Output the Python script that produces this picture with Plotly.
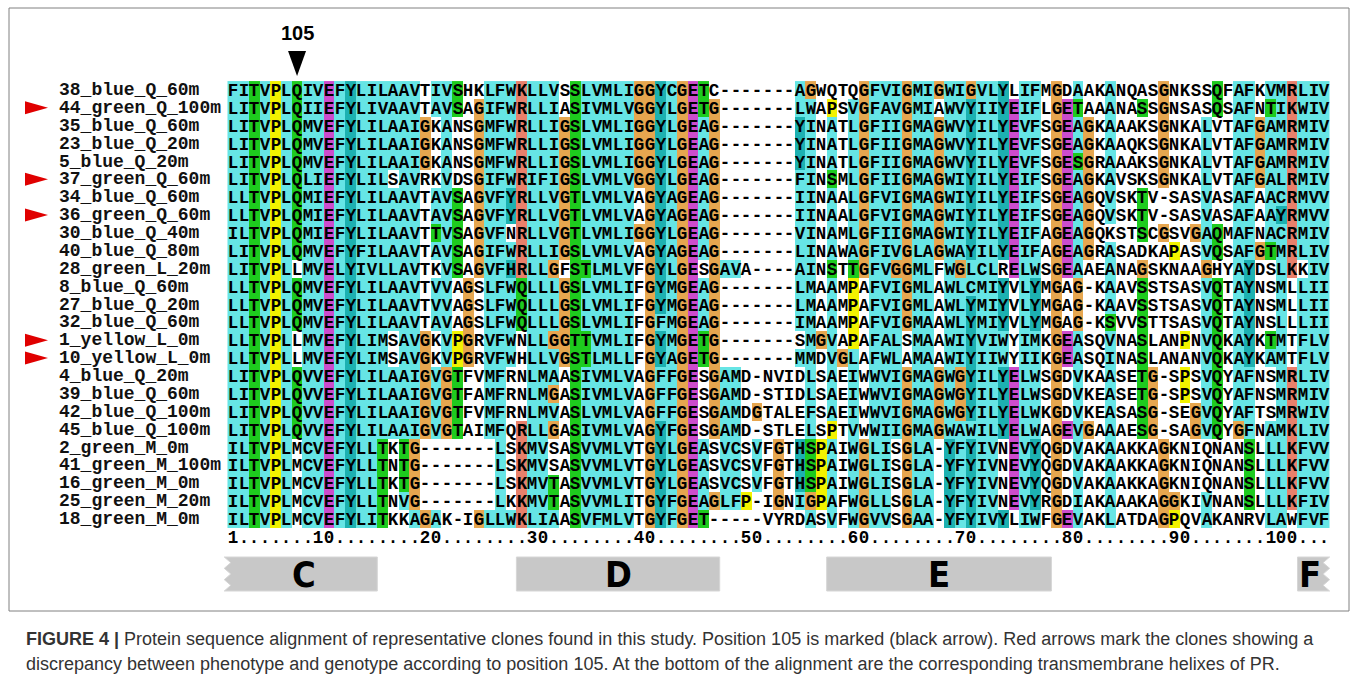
import plotly.graph_objects as go
from collections import Counter

# ---------------- data ----------------
names = [
    "38_blue_Q_60m", "44_green_Q_100m", "35_blue_Q_60m", "23_blue_Q_20m", "5_blue_Q_20m",
    "37_green_Q_60m", "34_blue_Q_60m", "36_green_Q_60m", "30_blue_Q_40m", "40_blue_Q_80m",
    "28_green_L_20m", "8_blue_Q_60m", "27_blue_Q_20m", "32_blue_Q_60m", "1_yellow_L_0m",
    "10_yellow_L_0m", "4_blue_Q_20m", "39_blue_Q_60m", "42_blue_Q_100m", "45_blue_Q_100m",
    "2_green_M_0m", "41_green_M_100m", "16_green_M_0m", "25_green_M_20m", "18_green_M_0m",
]
seqs = [
    "FITVPLQIVEFYLILAAVTIVSHKLFWKLLVSSLVMLIGGYCGETC-------AGWQTQGFVIGMIGWIGVLYLIFMGDAAKANQASGNKSSQFAFKVMRLIV",
    "LITVPLQIIEFYLIVAAVTAVSAGIFWRLLIASIVMLVGGYLGETG-------LWAPSVGFAVGMIAWVYIIYEIFLGETAAANASSGNSASQSAFNTIKWIV",
    "LITVPLQMVEFYLILAAIGKANSGMFWRLLIGSLVMLIGGYLGEAG-------YINATLGFIIGMAGWVYILYEVFSGEAGKAAAKSGNKALVTAFGAMRMIV",
    "LITVPLQMVEFYLILAAIGKANSGMFWRLLIGSLVMLIGGYLGEAG-------YINATLGFIIGMAGWVYILYEVFSGEAGKAAQKSGNKALVTAFGAMRMIV",
    "LITVPLQMVEFYLILAAIGKANSGMFWRLLIGSLVMLIGGYLGEAG-------YINATLGFIIGMAGWVYILYEVFSGESGRAAAKSGNKALVTAFGAMRMIV",
    "LITVPLQLIEFYLILSAVRKVDSGIFWRIFIGSLVMLVGGYLGEAG-------FINSMLGFIIGMAGWIYILYEIFSGEAGKAVSKSGNKALVTAFGALRMIV",
    "LLTVPLQMIEFYLILAAVTAVSAGVFYRLLVGTLVMLVAGYAGEAG-------IINAALGFVIGMAGWIYILYEIFSGEAGQVSKTV-SASVASAFAACRMVV",
    "LLTVPLQMIEFYLILAAVTAVSAGVFYRLLVGTLVMLVAGYAGEAG-------IINAALGFVIGMAGWIYILYEIFSGEAGQVSKTV-SASVASAFAAYRMVV",
    "ILTVPLQMIEFYLILAAVTTVSAGVFNRLLVGTLVMLIGGYLGEAG-------VINAMLGFIIGMAGWIYILYEIFAGEAGQKSTSCGSVGAQMAFNACRMIV",
    "LITVPLQMVEFYFILAAVTAVSAGIFWRLLIGSLVMLVAGYAGEAG-------LINAWAGFIVGLAGWAYILYEIFAGEAGRASADKAPASVQSAFGTMRLIV",
    "LITVPLLMVELYIVLLAVTKVSAGVFHRLLGFSTLMLVFGYLGESGAVA----AINSTTGFVGGMLFWGLCLRELWSGEAAEANAGSKNAAGHYAYDSLKKIV",
    "LLTVPLQMVEFYLILAAVTVVAGSLFWQLLLGSLVMLIFGYMGEAG-------LMAAMPAFVIGMLAWLCMIYVLYMGAG-KAAVSSTSASVQTAYNSMLLII",
    "LLTVPLQMVEFYLILAAVTVVAGSLFWQLLLGSLVMLIFGYMGEAG-------LMAAMPAFVIGMLAWLYMIYVLYMGAG-KAAVSSTSASVQTAYNSMLLII",
    "LLTVPLQMVEFYLILAAVTAVAGSLFWQLLLGSLVMLIFGFMGEAG-------IMAAMPAFVIGMAAWLYMIYVLYMGAG-KSVVSTTSASVQTAYNSLLLII",
    "LLTVPLLMVEFYLIMSAVGKVPGRVFWNLLGGTTVMLIFGYMGETG-------SMGVAPAFALSMAAWIYVIWYIMKGEASQVNASLANPNVQKAYKTMTFLV",
    "LLTVPLLMVEFYLIMSAVGKVPGRVFWHLLVGSTLMLLFGYAGETG-------MMDVGLAFWLAMAAWIYIIWYIIKGEASQINASLANANVQKAYKAMTFLV",
    "LITVPLQVVEFYLILAAIGVGTFVMFRNLMAASIVMLVAGFFGESGAMD-NVIDLSAEIWWVIGMAGWGYILYELWSGDVKAASETG-SPSVQYAFNSMRLIV",
    "LITVPLQVVEFYLILAAIGVGTFAMFRNLMGASIVMLVAGFFGESGAMD-STIDLSAEIWWVIGMAGWGYILYELWSGDVKEASETG-SPSVQYAFNSMRMIV",
    "LITVPLQVVEFYLILAAIGVGTFVMFRNLMVASLVMLVAGFFGESGAMDGTALEFSAEIWWVIGMAGWGYILYELWKGDVKEASASG-SEGVQYAFTSMRWIV",
    "LITVPLQVVEFYLILAAIGVGTAIMFQRLLGASIVMLVAGYFGESGAMD-STLELSPTVWWIIGMAGWAWILYELWAGEVGAAAESG-SAGVQYGFNAMKLIV",
    "ILTVPLMCVEFYLLTKTG-------LSKMVSASVVMLVTGYLGEASVCSVFGTHSPAIWGLISGLA-YFYIVNEVYQGDVAKAAKKAGKNIQNANSLLLKFVV",
    "ILTVPLMCVEFYLLTNTG-------LSKMVSASVVMLVTGYLGEASVCSVFGTHSPAIWGLISGLA-YFYIVNEVYQGDVAKAAKKAGKNIQNANSLLLKFVV",
    "ILTVPLMCVEFYLLTKTG-------LSKMVTASVVMLVTGYLGEASVCSVFGTHSPAIWGLISGLA-YFYIVNEVYQGDVAKAAKKAGKNIQNANSLLLKFVV",
    "ILTVPLMCVEFYLLTNVG-------LKKMVTASVVMLITGYFGEAGLFP-IGNIGPAFWGLLSGLA-YFYIVNEVYRGDIAKAAAKAGGKIVNANSLLLKFIV",
    "ILTVPLMCVEFYLITKKAGAK-IGLLWKLIAASVFMLVTGYFGET-----VYRDASVFWGVVSGAA-YFYIVYLIWFGEVAKLATDAGPQVAKANRVLAWFVF",
]
flagged = ["44_green_Q_100m", "37_green_Q_60m", "36_green_Q_60m", "1_yellow_L_0m", "10_yellow_L_0m"]
marked_label = "105"
marked_column = 7
helix_names = ["C", "D", "E", "F"]
helix_start = [1, 28, 57, 101]
helix_end = [14, 46, 77, 103]
helix_open_left = [True, False, False, False]
helix_open_right = [False, False, False, True]
ruler_every = 10
caption_lines = [
    "<b>FIGURE 4 |</b> Protein sequence alignment of representative clones found in this study. "
    "Position 105 is marked (black arrow). Red arrows mark the clones showing a",
    "discrepancy between phenotype and genotype according to position 105. At the bottom of the "
    "alignment are the corresponding transmembrane helixes of PR.",
]

# ---------------- layout geometry (pixels -> axis units) ----------------
W, H = 1357, 683
X0, CW = 227.5, 10.7      # left edge of column 1, column width
Y0, RH = 81.06, 17.875    # top edge of row 1, row height


def xd(px):
    return (px - X0) / CW + 0.5


def yd(py):
    return (py - Y0) / RH + 0.5


# ---------------- Clustal X style colouring ----------------
PALETTE = ["#ffffff", "#66e5e5", "#1db1b1", "#1ecb1e", "#cc4ccc", "#e8806b", "#e6a64f", "#f2f200"]
WHITE, CYAN, TEAL, GREEN, MAGENTA, RED, ORANGE, YELLOW = range(8)
HYD = set("WLVIMAFCYHP")

ncol = len(seqs[0])
nseq = len(seqs)


def column_colours(col):
    res = [c for c in col if c != "-"]
    n = max(len(res), 1)
    cnt = Counter(res)

    def f(group):
        return sum(cnt[g] for g in group) / n

    pct = f(HYD) >= 0.6
    hsh = f(HYD) >= 0.8
    minus = f("ED") >= 0.5
    plus = f("KR") >= 0.6
    n50 = f("N") >= 0.5
    q50 = f("QE") >= 0.5
    p50 = f("P") >= 0.5
    t50 = f("TS") >= 0.5

    def big(letters):
        return any(f(l) >= 0.85 for l in letters)

    hyd_ok = pct or hsh or p50 or big("ACFHILMVWYP")
    out = []
    for c in col:
        code = WHITE
        if c == "G":
            code = ORANGE
        elif c == "P":
            code = YELLOW
        elif c in "WLVIMAFC":
            code = CYAN if hyd_ok else WHITE
        elif c in "HY":
            code = TEAL if hyd_ok else WHITE
        elif c == "T":
            code = GREEN if (t50 or big("ST") or pct or hsh) else WHITE
        elif c == "S":
            code = GREEN if (t50 or big("ST") or hsh) else WHITE
        elif c == "N":
            code = GREEN if (n50 or big("ND")) else WHITE
        elif c == "Q":
            code = GREEN if (q50 or plus or big("QEKR")) else WHITE
        elif c == "E":
            code = MAGENTA if (minus or q50 or big("DEQ")) else WHITE
        elif c == "D":
            code = MAGENTA if (n50 or big("DEN")) else WHITE
        elif c in "KR":
            code = RED if (plus or big("KR")) else WHITE
        out.append(code)
    return out


cols = [column_colours([s[j] for s in seqs]) for j in range(ncol)]
z = [[cols[j][i] for j in range(ncol)] for i in range(nseq)]
text = [list(s) for s in seqs]

# ruler row
ruler = ["."] * ncol
for num in [1] + list(range(ruler_every, ncol + 1, ruler_every)):
    s = str(num)
    for k, ch in enumerate(s):
        ruler[num - len(s) + k] = ch
z.append([WHITE] * ncol)
text.append(ruler)

cs = []
for k, c in enumerate(PALETTE):
    cs.append([k / len(PALETTE), c])
    cs.append([(k + 1) / len(PALETTE), c])

MONO = "Liberation Mono, DejaVu Sans Mono, monospace"

fig = go.Figure()
fig.add_trace(go.Heatmap(
    x=list(range(1, ncol + 1)),
    y=list(range(1, nseq + 2)),
    z=z, text=text, texttemplate="%{text}",
    textfont=dict(family=MONO, size=17.5, color="black", weight="bold"),
    colorscale=cs, zmin=-0.5, zmax=len(PALETTE) - 0.5,
    showscale=False, hoverinfo="skip", xgap=0, ygap=0,
))

annotations = []
shapes = []

# sequence names
for i, nm in enumerate(names):
    annotations.append(dict(x=xd(57), y=i + 1, xref="x", yref="y", text=nm, showarrow=False,
                            xanchor="left", yanchor="middle",
                            font=dict(family=MONO, size=18, color="#111111", weight="bold")))

# red arrows for flagged clones
for nm in flagged:
    r = names.index(nm) + 1
    xl, xr = xd(25), xd(48)
    hh = 6.5 / RH
    shapes.append(dict(type="path", xref="x", yref="y",
                       path=f"M{xl},{r - hh} L{xr},{r} L{xl},{r + hh} Z",
                       fillcolor="#e00000", line=dict(width=0)))

# position marker
hw = 9 / CW
shapes.append(dict(type="path", xref="x", yref="y",
                   path=f"M{marked_column - hw},{yd(51)} L{marked_column + hw},{yd(51)} "
                        f"L{marked_column},{yd(76)} Z",
                   fillcolor="black", line=dict(width=0)))
annotations.append(dict(x=marked_column, y=yd(33), xref="x", yref="y", text=f"<b>{marked_label}</b>",
                        showarrow=False, xanchor="center", yanchor="middle",
                        font=dict(family="Liberation Sans, Arial, sans-serif", size=20, color="black")))

# helix bars
top, bot = yd(557), yd(591)
amp = 6.5 / CW
for nm, a, b, ol, orr in zip(helix_names, helix_start, helix_end, helix_open_left, helix_open_right):
    L, R = a - 0.5, b + 0.5
    if ol:
        L -= amp / 2
    pts = [(L, top), (R, top)]
    if orr:
        for k in range(1, 7):
            pts.append((R - amp if k % 2 else R, top + (bot - top) * k / 6))
    else:
        pts.append((R, bot))
    if ol:
        pts.append((L, bot))
        for k in range(1, 6):
            pts.append((L + amp if k % 2 else L, bot - (bot - top) * k / 6))
    else:
        pts.append((L, bot))
    path = "M" + " L".join(f"{x},{y}" for x, y in pts) + " Z"
    shapes.append(dict(type="path", xref="x", yref="y", path=path,
                       fillcolor="#c8c8c8", line=dict(color="#d6d6d6", width=1)))
    cx = (L + R) / 2 - (amp / 2 if orr else 0) + (amp / 2 if ol else 0)
    annotations.append(dict(x=cx, y=(top + bot) / 2, xref="x", yref="y", text=f"<b>{nm}</b>",
                            showarrow=False, xanchor="center", yanchor="middle",
                            font=dict(family="DejaVu Sans Condensed, Liberation Sans Narrow, "
                                             "Liberation Sans, Arial, sans-serif",
                                      size=36, color="black")))

# figure frame
shapes.append(dict(type="rect", xref="paper", yref="paper",
                   x0=9 / W, x1=1349 / W, y0=1 - 611 / H, y1=1 - 8 / H,
                   line=dict(color="#808080", width=1), fillcolor="rgba(0,0,0,0)"))

# caption
for py, line in zip([639, 664], caption_lines):
    annotations.append(dict(x=24 / W, y=1 - py / H, xref="paper", yref="paper", text=line,
                            showarrow=False, xanchor="left", yanchor="middle",
                            font=dict(family="Liberation Sans, Arial, sans-serif", size=18,
                                      color="#333333")))

fig.update_layout(
    width=W, height=H, margin=dict(l=0, r=0, t=0, b=0),
    paper_bgcolor="white", plot_bgcolor="white",
    xaxis=dict(visible=False, range=[xd(0), xd(W)], fixedrange=True),
    yaxis=dict(visible=False, range=[yd(H), yd(0)], fixedrange=True),
    shapes=shapes, annotations=annotations, showlegend=False,
)
fig.write_html("out.html", config={"displayModeBar": False},
               post_script="document.body.style.margin='0px';document.body.style.padding='0px';"
                           "document.body.style.overflow='hidden';")
